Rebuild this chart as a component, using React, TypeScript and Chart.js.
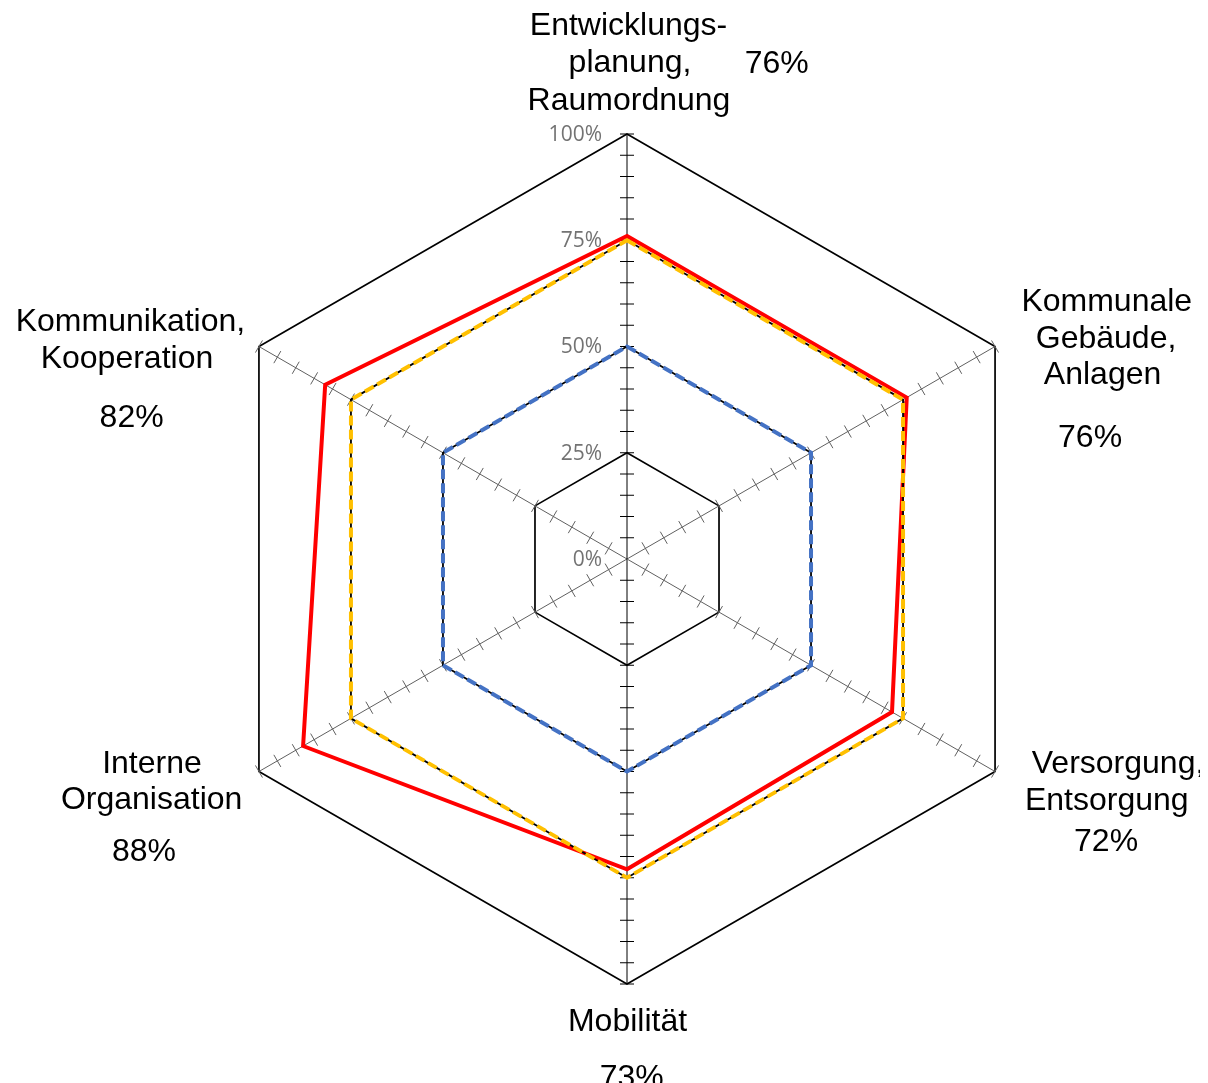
import React, { useEffect, useRef } from "react";
import { Chart, registerables } from "chart.js";

Chart.register(...registerables);

// ---- data ----
const categories: string[][] = [
  ["Entwicklungs-", "planung,", "Raumordnung"],
  ["Kommunale", "Gebäude,", "Anlagen"],
  ["Versorgung,", "Entsorgung"],
  ["Mobilität"],
  ["Interne", "Organisation"],
  ["Kommunikation,", "Kooperation"],
];
const actualValues = [76, 76, 72, 73, 88, 82];
const level75 = [75, 75, 75, 75, 75, 75];
const level50 = [50, 50, 50, 50, 50, 50];
const tickValues = [0, 25, 50, 75, 100];
const tickLabels = ["0%", "25%", "50%", "75%", "100%"];
const minorStep = 5;

// ---- layout of the text (offsets from each spoke's outer end) ----
const labelLayout: { lines: number[][]; pct: number[] }[] = [
  { lines: [[1.5, -99.5], [3, -62], [2, -24.5]], pct: [149.7, -61] },
  { lines: [[111.7, -35.5], [111, 1.2], [107.5, 37.5]], pct: [95, 100.2] },
  { lines: [[123, 1], [111.7, 38.5]], pct: [111, 79.5] },
  { lines: [[0.5, 46.5]], pct: [4.7, 102.5] },
  { lines: [[-107, 1], [-107.3, 37.5]], pct: [-115, 89] },
  { lines: [[-128.5, -15.5], [-132, 21.5]], pct: [-127.3, 80.2] },
];

const LABEL_FONT = '32px "Liberation Sans", Arial, sans-serif';
const TICK_FONT = '21px "Open Sans", "DejaVu Sans", sans-serif';

const radarDecor = {
  id: "radarDecor",
  beforeDatasetsDraw(chart: any) {
    const s = chart.scales.r;
    const ctx = chart.ctx as CanvasRenderingContext2D;
    ctx.save();
    const n = categories.length;
    for (let i = 0; i < n; i++) {
      const a = s.getIndexAngle(i) - Math.PI / 2;
      const px = -Math.sin(a);
      const py = Math.cos(a);
      ctx.strokeStyle = i % 3 === 0 ? "#000000" : "#606060";
      ctx.lineWidth = 1;
      for (let v = minorStep; v <= 100; v += minorStep) {
        const p = s.getPointPositionForValue(i, v);
        ctx.beginPath();
        ctx.moveTo(p.x - 7 * px, p.y - 7 * py);
        ctx.lineTo(p.x + 7 * px, p.y + 7 * py);
        ctx.stroke();
      }
    }
    // tick labels
    ctx.font = TICK_FONT;
    ctx.fillStyle = "#737373";
    ctx.textAlign = "right";
    ctx.textBaseline = "middle";
    tickValues.forEach((v, k) => {
      const p = s.getPointPositionForValue(0, v);
      ctx.fillText(tickLabels[k], p.x - 25, p.y + 1);
    });
    ctx.restore();
  },
  afterDraw(chart: any) {
    const s = chart.scales.r;
    const ctx = chart.ctx as CanvasRenderingContext2D;
    ctx.save();
    ctx.font = LABEL_FONT;
    ctx.fillStyle = "#000000";
    ctx.textAlign = "center";
    ctx.textBaseline = "alphabetic";
    categories.forEach((lines, i) => {
      const end = s.getPointPositionForValue(i, 100);
      const lay = labelLayout[i];
      lines.forEach((t, j) => {
        const o = lay.lines[j];
        ctx.fillText(t, end.x + o[0], end.y + o[1]);
      });
      ctx.fillText(actualValues[i] + "%", end.x + lay.pct[0], end.y + lay.pct[1]);
    });
    ctx.restore();
  },
};

export default function App() {
  const canvasRef = useRef<HTMLCanvasElement | null>(null);

  useEffect(() => {
    if (!canvasRef.current) return;
    const common = {
      fill: false,
      pointRadius: 0,
      pointHoverRadius: 0,
      tension: 0,
      backgroundColor: "rgba(0,0,0,0)",
    };
    const chart = new Chart(canvasRef.current, {
      type: "radar",
      data: {
        labels: categories,
        datasets: [
          { ...common, label: "75% Linie", data: level75, borderColor: "#ffc000", borderWidth: 4, borderDash: [10, 4] },
          { ...common, label: "75% Basis", data: level75, borderColor: "#000000", borderWidth: 1.8 },
          { ...common, label: "50% Linie", data: level50, borderColor: "#4472c4", borderWidth: 4, borderDash: [10, 4] },
          { ...common, label: "50% Basis", data: level50, borderColor: "#000000", borderWidth: 1.8 },
          { ...common, label: "Ergebnis", data: actualValues, borderColor: "#ff0000", borderWidth: 4 },
        ],
      },
      options: {
        animation: false,
        responsive: true,
        maintainAspectRatio: false,
        layout: { padding: { left: 202, right: 156, top: 126, bottom: 124 } },
        plugins: { legend: { display: false }, tooltip: { enabled: false } },
        scales: {
          r: {
            min: 0,
            max: 100,
            ticks: { display: false, stepSize: 25 },
            pointLabels: { display: false },
            grid: {
              color: (c: any) =>
                c.tick && (c.tick.value === 25 || c.tick.value === 100) ? "#000000" : "rgba(0,0,0,0)",
              lineWidth: 1.7,
            },
            angleLines: {
              color: (c: any) => (c.index % 3 === 0 ? "#000000" : "#606060"),
              lineWidth: 1,
            },
          },
        },
      } as any,
      plugins: [radarDecor],
    });
    return () => chart.destroy();
  }, []);

  return (
    <div style={{ position: "relative", marginLeft: -8, width: 1208, height: 1100 }}>
      <canvas ref={canvasRef} />
    </div>
  );
}
